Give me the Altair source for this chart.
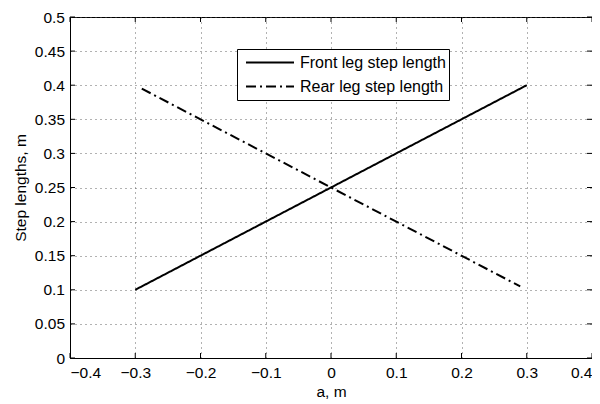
import altair as alt
import pandas as pd

# ---- data ----
series = ["Front leg step length", "Rear leg step length"]
a_front = [-0.3, 0.3]
step_front = [0.1, 0.4]
a_rear = [-0.29, 0.29]
step_rear = [0.395, 0.105]
x_ticks = [-0.4, -0.3, -0.2, -0.1, 0.0, 0.1, 0.2, 0.3, 0.4]
y_ticks = [0.0, 0.05, 0.1, 0.15, 0.2, 0.25, 0.3, 0.35, 0.4, 0.45, 0.5]

lines = pd.DataFrame({
    "a": a_front + a_rear,
    "step": step_front + step_rear,
    "series": [series[0]] * len(a_front) + [series[1]] * len(a_rear),
})
xt = pd.DataFrame({"a": x_ticks})
yt = pd.DataFrame({"step": y_ticks})

FONT = "Liberation Sans"
W, H = 522, 341

xscale = alt.Scale(domain=[-0.4, 0.4], nice=False, zero=False)
yscale = alt.Scale(domain=[0, 0.5], nice=False, zero=False)

xaxis = alt.Axis(values=x_ticks, format="~g", title="a, m", ticks=False,
                 labelPadding=7, titleY=38, titleBaseline="alphabetic")
yaxis = alt.Axis(values=y_ticks, format="~g", title="Step lengths, m", ticks=False,
                 labelPadding=5.5, titleX=-50, titleY=H / 2, titleAngle=-90,
                 titleBaseline="middle", titleAlign="center")

X = lambda: alt.X("a:Q", scale=xscale, axis=xaxis)
Y = lambda: alt.Y("step:Q", scale=yscale, axis=yaxis)

line_layer = alt.Chart(lines).mark_line(color="black", strokeWidth=2, clip=True).encode(
    x=X(),
    y=Y(),
    strokeDash=alt.StrokeDash(
        "series:N",
        title=None,
        scale=alt.Scale(domain=series, range=[[1, 0], [10, 4, 2, 4]]),
        legend=alt.Legend(
            orient="none", legendX=167, legendY=32,
            symbolType="stroke", symbolSize=2304, symbolStrokeWidth=2,
            symbolStrokeColor="black", symbolOffset=5,
            clipHeight=21, rowPadding=3, padding=3, labelOffset=5,
            labelFont=FONT, labelFontSize=16, labelColor="black",
            fillColor="white", strokeColor="black", labelLimit=400,
        ),
    ),
)

tick_b = alt.Chart(xt).mark_rule(color="black", strokeWidth=1).encode(
    x=X(), y=alt.value(H), y2=alt.value(H - 5))
tick_t = alt.Chart(xt).mark_rule(color="black", strokeWidth=1).encode(
    x=X(), y=alt.value(0), y2=alt.value(5))
tick_l = alt.Chart(yt).mark_rule(color="black", strokeWidth=1).encode(
    y=Y(), x=alt.value(0), x2=alt.value(5))
tick_r = alt.Chart(yt).mark_rule(color="black", strokeWidth=1).encode(
    y=Y(), x=alt.value(W), x2=alt.value(W - 5))

chart = alt.layer(tick_b, tick_t, tick_l, tick_r, line_layer).properties(
    width=W, height=H,
    autosize=alt.AutoSizeParams(type="none"),
    padding={"left": 62, "top": 9, "right": 0, "bottom": 45},
    background="white",
).configure_view(
    stroke="black", strokeWidth=1
).configure_axis(
    domainColor="black", domainWidth=1,
    grid=True, gridColor="#555555", gridDash=[1, 4], gridWidth=1, gridOpacity=0.9,
    labelFont=FONT, labelFontSize=15.5, labelColor="black",
    titleFont=FONT, titleFontSize=15.5, titleColor="black", titleFontWeight="normal",
)

chart.save("out.html", embed_options={"renderer": "svg", "actions": False})
